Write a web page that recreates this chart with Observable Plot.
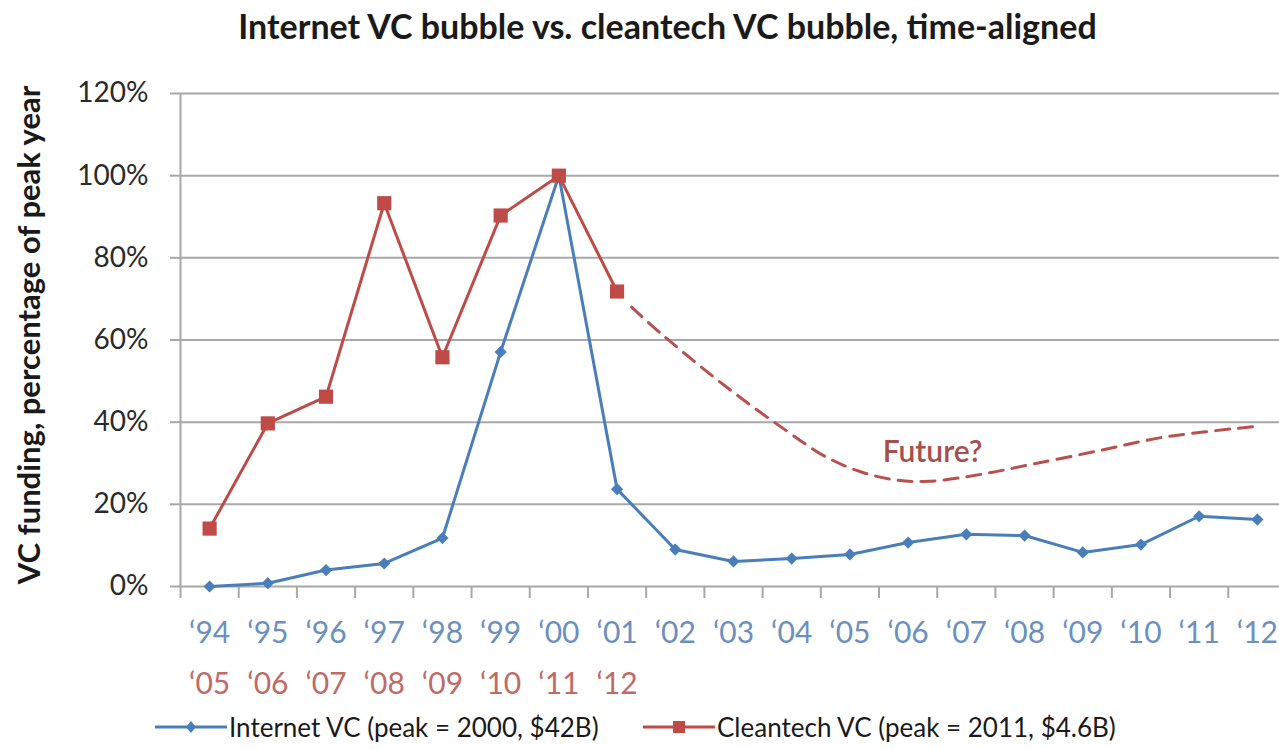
<!DOCTYPE html>
<html><head><meta charset="utf-8">
<script src="https://cdn.jsdelivr.net/npm/d3@7"></script>
<script src="https://cdn.jsdelivr.net/npm/@observablehq/plot@0.6"></script>
<style>
body{margin:0;background:#fff;font-family:Lato,"Open Sans",sans-serif;}
#wrap{position:relative;width:1279px;height:749px;overflow:hidden;}
#title{position:absolute;left:28px;top:9px;width:1279px;text-align:center;font-weight:bold;font-size:34px;line-height:34px;color:#1a1a1a;}
#chart{position:absolute;left:0;top:68px;}
.leg{position:absolute;top:710px;height:34px;display:flex;align-items:center;font-size:26px;color:#1a1a1a;white-space:nowrap;}
.leg svg{margin-right:2px;}
</style></head>
<body>
<div id="wrap">
  <div id="title"></div>
  <div id="chart"></div>
</div>
<script>
const titleText = "Internet VC bubble vs. cleantech VC bubble, time-aligned";
const yTitle = "VC funding, percentage of peak year";
const internetYears = ["‘94","‘95","‘96","‘97","‘98","‘99","‘00","‘01","‘02","‘03","‘04","‘05","‘06","‘07","‘08","‘09","‘10","‘11","‘12"];
const cleantechYears = ["‘05","‘06","‘07","‘08","‘09","‘10","‘11","‘12"];
const internet = [0,0.8,4.0,5.6,11.8,57.1,100,23.7,9.0,6.1,6.8,7.8,10.7,12.7,12.4,8.3,10.2,17.1,16.3];
const cleantech = [14.1,39.7,46.2,93.3,55.8,90.3,100,71.8];
const futureX = [7.25,7.8,8.93,9.9,10.57,11.17,11.75,12.35,13.25,14.14,15.26,16.37,18];
const futureY = [68,61,48,38,31.7,28,26,25.6,27.3,29.8,33,36.3,39];
const futureNote = [{label:"Future?", x:12.42, y:32.7}];
const yTicks = [0,20,40,60,80,100,120];
const legendLabels = ["Internet VC (peak = 2000, $42B)","Cleantech VC (peak = 2011, $4.6B)"];

const BLUE="#4a7ebb", RED="#be4b48", GRID="#a8a8a8";

document.getElementById("title").textContent = titleText;

const internetData = internet.map((v,i)=>({i, v}));
const cleanData = cleantech.map((v,i)=>({i, v}));
const futureData = futureX.map((x,k)=>({x, y:futureY[k]}));
const bounds = d3.range(20).map(k=>k-0.5);

const chart = Plot.plot({
  width:1279, height:636,
  marginLeft:180, marginRight:0, marginTop:25, marginBottom:118,
  x:{domain:[-0.5,18.38]},
  y:{domain:[0,120]},
  style:{fontFamily:"Lato, sans-serif", background:"transparent", overflow:"visible"},
  marks:[
    Plot.gridY(yTicks,{stroke:GRID, strokeOpacity:1, strokeWidth:2}),
    Plot.ruleX([-0.5],{y1:0, y2:120, stroke:GRID, strokeWidth:2}),
    Plot.axisY(yTicks,{tickSize:10, tickPadding:22, tickFormat:d=>d+"%", fontSize:28, stroke:GRID, strokeWidth:2, fill:"#2a2a2a", label:null}),
    Plot.axisX(bounds,{tickSize:12, tickFormat:()=>"", stroke:GRID, strokeWidth:2, label:null}),
    Plot.axisX(d3.range(internetYears.length),{tickSize:0, tickPadding:35, tickFormat:i=>internetYears[i], fontSize:30, fill:"#6b8fc0", label:null}),
    Plot.axisX(d3.range(cleantechYears.length),{tickSize:0, tickPadding:86, tickFormat:i=>cleantechYears[i], fontSize:30, fill:"#c06a66", label:null}),
    Plot.text([yTitle],{frameAnchor:"left", textAnchor:"middle", rotate:-90, dx:-150, dy:-5, fontWeight:"bold", fontSize:31, fill:"#1a1a1a"}),
    Plot.line(futureData,{x:"x", y:"y", curve:"catmull-rom", stroke:"#b8504e", strokeWidth:3, strokeDasharray:"14,9"}),
    Plot.text(futureNote,{x:"x", y:"y", text:"label", fontSize:30, fill:"#a84f4e", fontWeight:600}),
    Plot.line(internetData,{x:"i", y:"v", stroke:BLUE, strokeWidth:3}),
    Plot.dot(internetData,{x:"i", y:"v", symbol:"diamond2", r:5.5, fill:BLUE, stroke:null}),
    Plot.line(cleanData,{x:"i", y:"v", stroke:RED, strokeWidth:3}),
    Plot.dot(cleanData,{x:"i", y:"v", symbol:"square", r:8, fill:RED, stroke:null})
  ]
});
document.getElementById("chart").append(chart);

// legend
const wrap = document.getElementById("wrap");
const legItems = [
  {left:155, color:BLUE, marker:"diamond"},
  {left:643, color:RED, marker:"square"}
];
legItems.forEach((it,k)=>{
  const d = document.createElement("div");
  d.className = "leg";
  d.style.left = it.left+"px";
  const mk = it.marker==="diamond"
    ? `<path d="M36 5 L41 11 L36 17 L31 11 Z" fill="${it.color}"/>`
    : `<rect x="30" y="5" width="12" height="12" fill="${it.color}"/>`;
  d.innerHTML = `<svg width="72" height="22"><line x1="0" y1="11" x2="72" y2="11" stroke="${it.color}" stroke-width="3"/>${mk}</svg><span></span>`;
  d.querySelector("span").textContent = legendLabels[k];
  wrap.append(d);
});
</script>
</body></html>
